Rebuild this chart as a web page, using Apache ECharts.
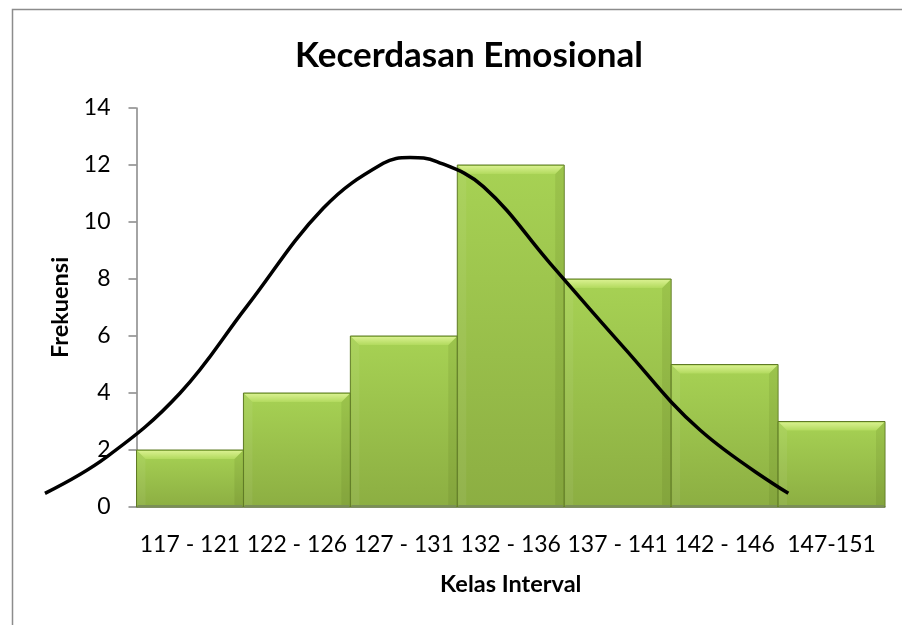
<!DOCTYPE html>
<html>
<head>
<meta charset="utf-8">
<script src="https://cdn.jsdelivr.net/npm/echarts@6/dist/echarts.min.js"></script>
<style>
  html, body { margin: 0; padding: 0; background: #fff; }
  #chart { width: 902px; height: 625px; }
</style>
</head>
<body>
<div id="chart"></div>
<script>
// kelas interval dan frekuensi
const kelas = ['117 - 121', '122 - 126', '127 - 131', '132 - 136', '137 - 141', '142 - 146', '147-151']
const frekuensi = [2, 4, 6, 12, 8, 5, 3]
const yTicks = [0, 2, 4, 6, 8, 10, 12, 14]

// kurva normal (digambar tangan), x pada skala nilai, y frekuensi
const kurvaX = [112.22, 115.11, 118.53, 121.65, 125.23, 128.04, 129.29, 130.54, 132.72, 135.84, 139.26, 142.85, 146.98]
const kurvaY = [0.48, 1.76, 3.99, 7.03, 10.48, 12.06, 12.26, 12.12, 11.24, 8.55, 5.62, 2.7, 0.48]

const chart = echarts.init(document.getElementById('chart'))
const font = 'Lato, "Open Sans", sans-serif'
const axisGrey = '#868686'

// grid utama dan grid kurva (skala nilai 116.5..151.5 sama dengan kategori)
const gridLeft = 136.5
const gridRight = 17
const kelasMin = 116.5
const kelasMax = 151.5
const kurvaMin = 112
const pxPerUnit = (902 - gridLeft - gridRight) / (kelasMax - kelasMin)

function bevelBar(params, api) {
	const top = api.coord([api.value(0), api.value(1)])
	const base = api.coord([api.value(0), 0])
	const w = api.size([1, 0])[0]
	const x0 = top[0] - w / 2
	const x1 = x0 + w
	const y0 = top[1]
	const y1 = base[1]
	const b = 9
	return {
		type: 'group',
		children: [{
			type: 'rect',
			shape: { x: x0, y: y0, width: w, height: y1 - y0 },
			style: {
				fill: new echarts.graphic.LinearGradient(0, 0, 0, 1, [
					{ offset: 0, color: '#a7d254' },
					{ offset: 1, color: '#8cae42' }
				]),
				stroke: '#5f7a25',
				lineWidth: 1
			}
		}, {
			type: 'polygon',
			shape: { points: [[x0 + 1, y0 + 1], [x0 + b, y0 + b], [x0 + b, y1 - 2], [x0 + 1, y1 - 1]] },
			style: { fill: 'rgba(255,255,255,0.06)' }
		}, {
			type: 'polygon',
			shape: { points: [[x1 - 1, y0 + 1], [x1 - b, y0 + b], [x1 - b, y1 - 2], [x1 - 1, y1 - 1]] },
			style: { fill: 'rgba(60,80,10,0.10)' }
		}, {
			type: 'polygon',
			shape: { points: [[x0 + 1, y0 + 1], [x1 - 1, y0 + 1], [x1 - b, y0 + b], [x0 + b, y0 + b]] },
			style: {
				fill: new echarts.graphic.LinearGradient(0, 0, 0, 1, [
					{ offset: 0, color: '#d8f08e' },
					{ offset: 1, color: '#b2da5e' }
				])
			}
		}, {
			type: 'line',
			shape: { x1: x0 + 1, y1: y1 - 1, x2: x1 - 1, y2: y1 - 1 },
			style: { stroke: '#7a8f55', lineWidth: 2 }
		}]
	}
}

chart.setOption({
	animation: false,
	title: {
		text: 'Kecerdasan Emosional',
		left: 290,
		top: 33,
		textStyle: { fontFamily: font, fontSize: 35, fontWeight: 'bold', color: '#000' }
	},
	graphic: [{
		type: 'rect',
		left: 10,
		top: 7,
		shape: { width: 1000, height: 1000 },
		style: { fill: 'none', stroke: '#8c8c8c', lineWidth: 1.5 },
		silent: true
	}],
	grid: [
		{ left: gridLeft, right: gridRight, top: 108, bottom: 118 },
		{ left: gridLeft - (kelasMin - kurvaMin) * pxPerUnit, right: gridRight, top: 108, bottom: 118 }
	],
	xAxis: [{
		type: 'category',
		gridIndex: 0,
		data: kelas,
		name: 'Kelas Interval',
		nameLocation: 'middle',
		nameGap: 65,
		nameTextStyle: { fontFamily: font, fontSize: 23.5, fontWeight: 'bold', color: '#000' },
		axisLine: { lineStyle: { color: axisGrey, width: 1.5 } },
		axisTick: { show: false },
		axisLabel: { fontFamily: font, fontSize: 23, color: '#000', margin: 26, interval: 0 }
	}, {
		type: 'value',
		gridIndex: 1,
		min: kurvaMin,
		max: kelasMax,
		show: false
	}],
	yAxis: [{
		type: 'value',
		gridIndex: 0,
		min: 0,
		max: 14,
		interval: 2,
		name: 'Frekuensi',
		nameLocation: 'middle',
		nameGap: 62,
		nameTextStyle: { fontFamily: font, fontSize: 23.5, fontWeight: 'bold', color: '#000' },
		axisLine: { show: true, lineStyle: { color: axisGrey, width: 1.5 } },
		axisTick: { show: true, length: 8, lineStyle: { color: axisGrey, width: 1.5 } },
		splitLine: { show: false },
		axisLabel: {
			fontFamily: font, fontSize: 23, color: '#000', margin: 26,
			formatter: v => yTicks.indexOf(v) >= 0 ? String(v) : ''
		}
	}, {
		type: 'value',
		gridIndex: 1,
		min: 0,
		max: 14,
		show: false
	}],
	series: [{
		type: 'custom',
		xAxisIndex: 0,
		yAxisIndex: 0,
		renderItem: bevelBar,
		encode: { x: 0, y: 1 },
		data: kelas.map((k, i) => [i, frekuensi[i]]),
		z: 2
	}, {
		type: 'line',
		xAxisIndex: 1,
		yAxisIndex: 1,
		data: kurvaX.map((x, i) => [x, kurvaY[i]]),
		smooth: 0.4,
		symbol: 'none',
		clip: false,
		lineStyle: { color: '#000', width: 3.5 },
		z: 5
	}]
})
</script>
</body>
</html>
